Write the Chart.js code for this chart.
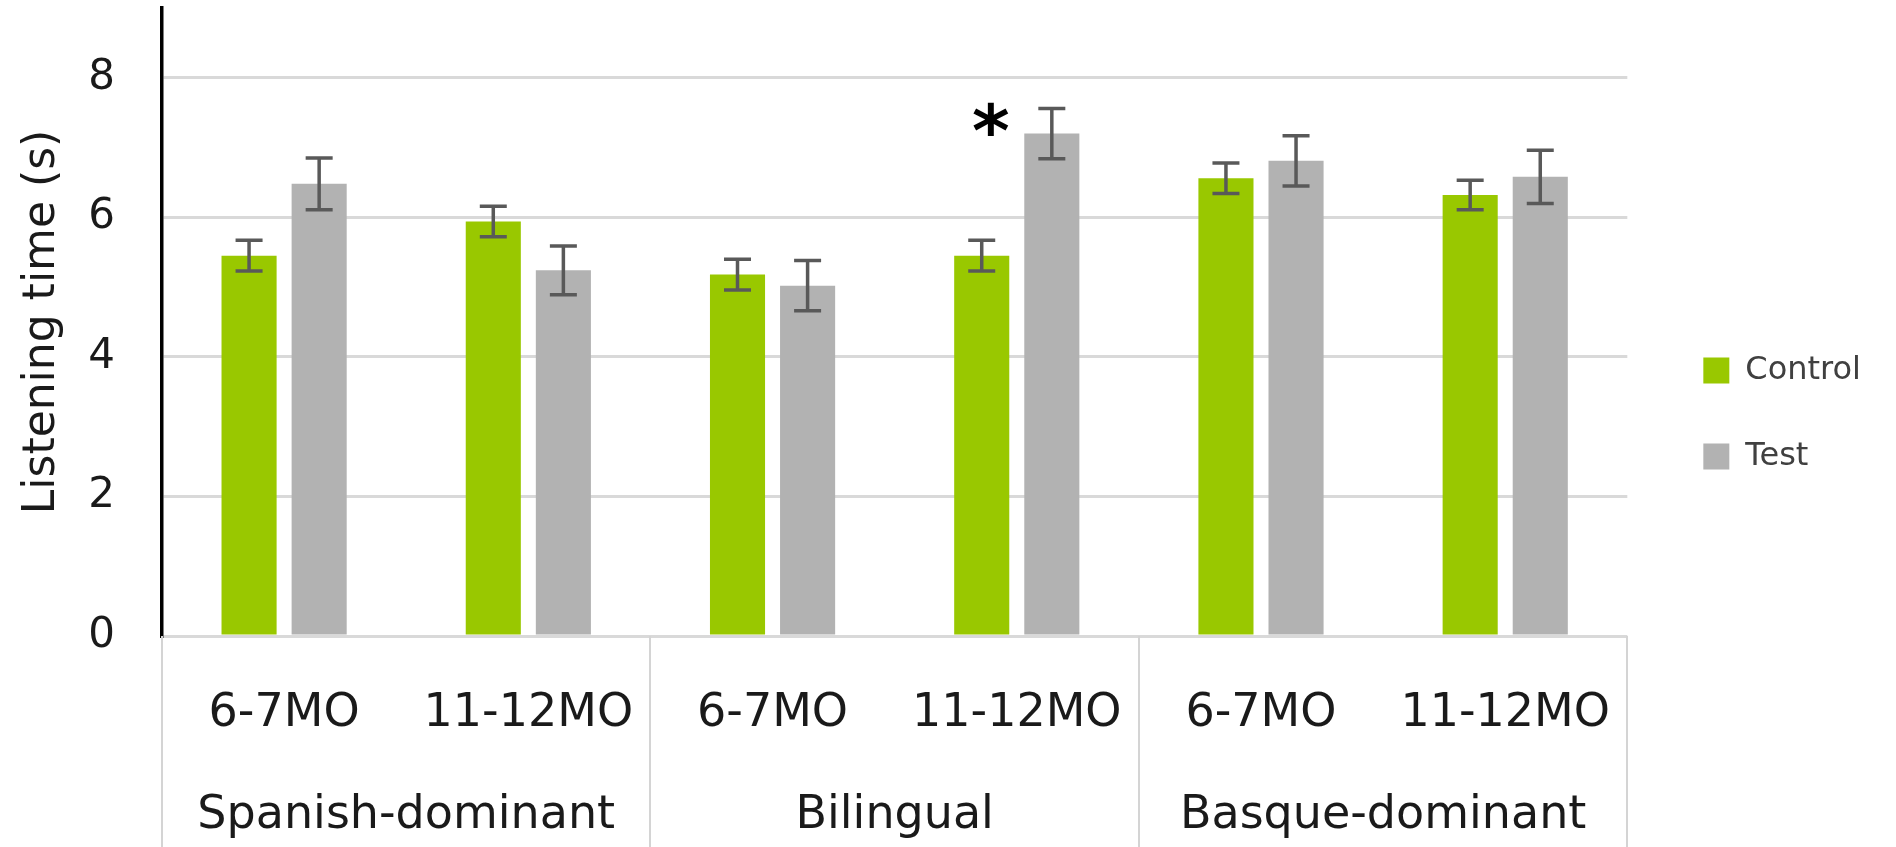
<!DOCTYPE html>
<html><head><meta charset="utf-8">
<script src="https://cdn.jsdelivr.net/npm/chart.js@4.4.1/dist/chart.umd.min.js"></script>
<style>html,body{margin:0;padding:0;background:#fff;overflow:hidden}canvas{display:block}</style>
</head><body>
<canvas id="c" width="1896" height="847"></canvas>
<script>
const categories = ['6-7MO', '11-12MO', '6-7MO', '11-12MO', '6-7MO', '11-12MO'];
const groups = ['Spanish-dominant', 'Bilingual', 'Basque-dominant'];
const controlValues = [5.45, 5.94, 5.18, 5.45, 6.56, 6.32];
const controlErrors = [0.22, 0.22, 0.22, 0.22, 0.22, 0.21];
const testValues = [6.48, 5.24, 5.02, 7.20, 6.81, 6.58];
const testErrors = [0.37, 0.35, 0.36, 0.36, 0.36, 0.38];
const yTicks = [0, 2, 4, 6, 8];
const yMax = 9;
const starIndex = 3;
const starValue = 7.41;

const FONT = "'DejaVu Sans', Verdana, sans-serif";

const errorBarPlugin = {
  id: 'errorBars',
  afterDatasetsDraw(chart) {
    const ctx = chart.ctx, y = chart.scales.y;
    const errs = [controlErrors, testErrors];
    chart.data.datasets.forEach((ds, di) => {
      chart.getDatasetMeta(di).data.forEach((bar, i) => {
        const v = ds.data[i], e = errs[di][i];
        const t = y.getPixelForValue(v + e), b = y.getPixelForValue(v - e);
        ctx.save();
        ctx.strokeStyle = '#595959';
        ctx.lineWidth = 3.5;
        ctx.beginPath();
        ctx.moveTo(bar.x, t); ctx.lineTo(bar.x, b);
        ctx.moveTo(bar.x - 13.5, t); ctx.lineTo(bar.x + 13.5, t);
        ctx.moveTo(bar.x - 13.5, b); ctx.lineTo(bar.x + 13.5, b);
        ctx.stroke();
        ctx.restore();
      });
    });
    const bar = chart.getDatasetMeta(0).data[starIndex];
    ctx.save();
    ctx.font = 'bold 72px ' + FONT;
    ctx.fillStyle = '#000';
    ctx.textAlign = 'center';
    ctx.textBaseline = 'alphabetic';
    const m = ctx.measureText('*');
    const target = y.getPixelForValue(starValue);
    ctx.fillText('*', bar.x + 9, target + (m.actualBoundingBoxAscent - m.actualBoundingBoxDescent) / 2);
    ctx.restore();
  }
};

const groupPlugin = {
  id: 'groupAxis',
  afterDraw(chart) {
    const ctx = chart.ctx, x = chart.scales.x;
    const catW = x.width / categories.length;
    const per = categories.length / groups.length;
    ctx.save();
    ctx.strokeStyle = '#d4d4d4';
    ctx.lineWidth = 2;
    for (let k = 0; k <= categories.length; k += per) {
      const px = Math.round(x.left + k * catW);
      ctx.beginPath();
      ctx.moveTo(px, x.top);
      ctx.lineTo(px, chart.height);
      ctx.stroke();
    }
    ctx.font = '46px ' + FONT;
    ctx.fillStyle = '#1a1a1a';
    ctx.textAlign = 'center';
    ctx.textBaseline = 'middle';
    groups.forEach((g, gi) => {
      const cx = x.left + (gi * per + per / 2) * catW;
      ctx.fillText(g, cx, x.top + 180);
    });
    ctx.restore();
  }
};

const legendShift = {
  id: 'legendShift',
  afterLayout(chart) {
    const lg = chart.legend;
    if (!lg) return;
    lg.left += 22; lg.right += 22;
    lg.top -= 14; lg.bottom -= 14;
  }
};

new Chart(document.getElementById('c'), {
  type: 'bar',
  data: {
    labels: categories,
    datasets: [
      { label: 'Control', data: controlValues, backgroundColor: '#99c800', categoryPercentage: 0.574, barPercentage: 0.786 },
      { label: 'Test', data: testValues, backgroundColor: '#b2b2b2', categoryPercentage: 0.574, barPercentage: 0.786 }
    ]
  },
  options: {
    responsive: false,
    animation: false,
    devicePixelRatio: 1,
    layout: { padding: { top: 8, right: 47, left: 0, bottom: 0 } },
    plugins: {
      tooltip: { enabled: false },
      legend: {
        position: 'right',
        labels: {
          boxWidth: 26, boxHeight: 26, padding: 54,
          color: '#404040',
          font: { family: FONT, size: 32 }
        }
      }
    },
    scales: {
      x: {
        grid: { display: false, drawTicks: false },
        border: { display: false },
        ticks: { color: '#1a1a1a', font: { family: FONT, size: 46 }, padding: 50, maxRotation: 0, autoSkip: false },
        afterFit(s) { s.height = 211; s.paddingLeft = 0; s.paddingRight = 0; }
      },
      y: {
        min: 0, max: yMax,
        afterBuildTicks(s) { s.ticks = yTicks.map(v => ({ value: v })); },
        grid: { color: '#d9d9d9', lineWidth: 3, drawTicks: false },
        border: { display: true, color: '#000', width: 3.5 },
        ticks: { color: '#1a1a1a', font: { family: FONT, size: 42 }, padding: 47 },
        title: { display: true, text: 'Listening time (s)', color: '#1a1a1a', font: { family: FONT, size: 44 }, padding: { top: 16, bottom: 0 } },
        afterFit(s) { s.width = 162; s.paddingTop = 0; s.paddingBottom = 0; }
      }
    }
  },
  plugins: [errorBarPlugin, groupPlugin, legendShift]
});
</script>
</body></html>
